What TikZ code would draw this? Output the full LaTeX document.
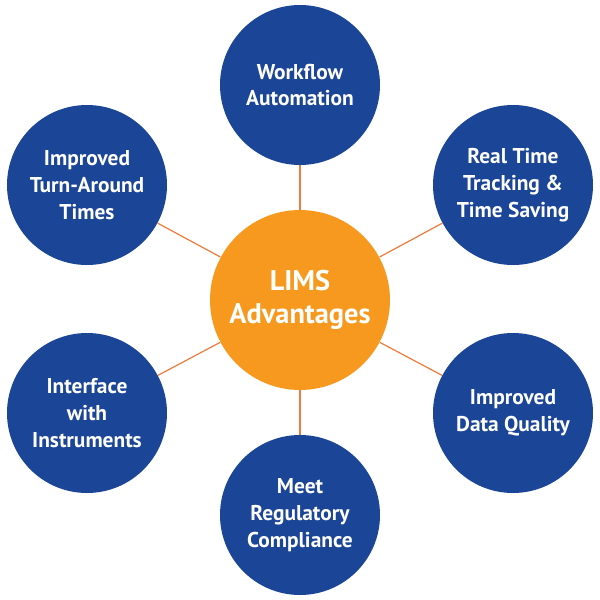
\documentclass[tikz,border=0pt]{standalone}
\usepackage{fontspec}
\setmainfont{PT Sans}
\definecolor{limsblue}{RGB}{27,69,150}
\definecolor{limsorange}{RGB}{247,153,30}
\definecolor{limsline}{RGB}{240,122,58}

\begin{document}
\begin{tikzpicture}[x=0.5pt,y=-0.5pt,inner sep=0pt,
  outer/.style={circle,fill=limsblue,minimum size=80pt,text=white,align=center,
    font=\fontsize{10.7}{13.4}\selectfont\bfseries},
  hub/.style={circle,fill=limsorange,minimum size=90pt,text=white,align=center,
    font=\fontsize{14.2}{16.5}\selectfont\bfseries},
  spoke/.style={limsline,line width=0.6pt}]
\useasboundingbox (0, 0) rectangle (600, 600);
\node[hub] (lims) at (300, 300) {LIMS\\Advantages};
\node[outer] (wf) at (300, 85) {Workflow\\Automation};
\node[outer] (rt) at (513, 185) {Real Time\\Tracking \&\\Time Saving};
\node[outer] (dq) at (513, 413) {Improved\\Data Quality};
\node[outer] (rc) at (300, 515) {Meet\\Regulatory\\Compliance};
\node[outer] (ii) at (87, 413) {Interface\\with\\Instruments};
\node[outer] (ta) at (87, 185) {Improved\\Turn-Around\\Times};

\foreach \n in {wf, rt, dq, rc, ii, ta}
  \draw[spoke] (lims) -- (\n);
\end{tikzpicture}
\end{document}
